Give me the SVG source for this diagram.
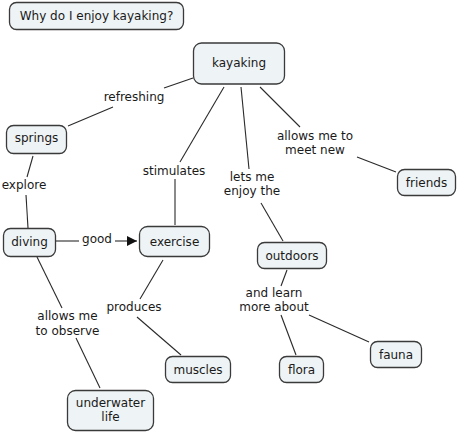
<svg xmlns="http://www.w3.org/2000/svg" width="457" height="432" viewBox="0 0 457 432">
<defs>
<style>
.n rect{fill:#eef3f5;stroke:#3a3a3a;stroke-width:1.3}
text{font-family:"DejaVu Sans",Verdana,sans-serif;font-size:12px;fill:#1a1a1a;text-anchor:middle}
.c line{stroke:#2a2a2a;stroke-width:1.1}
</style>
<marker id="ah" viewBox="0 0 10 10" refX="10" refY="5" markerWidth="10" markerHeight="10" markerUnits="userSpaceOnUse" orient="auto"><path d="M0,0 L10,5 L0,10 Z" fill="#111"/></marker>
</defs>
<rect width="457" height="432" fill="#fff"/>
<g class="c">
<line x1="193" y1="78" x2="164" y2="88"/>
<line x1="113" y1="107" x2="68" y2="126"/>
<line x1="224" y1="87" x2="180" y2="162"/>
<line x1="175" y1="179" x2="175" y2="225"/>
<line x1="241" y1="87" x2="249" y2="169"/>
<line x1="261" y1="203" x2="283" y2="241"/>
<line x1="260" y1="87" x2="300" y2="127"/>
<line x1="357" y1="157" x2="396" y2="172"/>
<line x1="33" y1="156" x2="27" y2="177"/>
<line x1="26" y1="195" x2="28" y2="228"/>
<line x1="56" y1="241" x2="79" y2="241"/>
<line x1="115" y1="241" x2="137" y2="241" marker-end="url(#ah)"/>
<line x1="37" y1="257" x2="62" y2="308"/>
<line x1="76" y1="338" x2="100" y2="388"/>
<line x1="163" y1="260" x2="140" y2="299"/>
<line x1="137" y1="317" x2="181" y2="355"/>
<line x1="287" y1="270" x2="281" y2="286"/>
<line x1="281" y1="315" x2="296" y2="355"/>
<line x1="309" y1="315" x2="369" y2="342"/>
</g>
<g id="title" class="n"><rect x="9.5" y="2.5" width="174" height="27" rx="7"/><text x="96.5" y="20">Why do I enjoy kayaking?</text></g>
<g id="kayaking" class="n"><rect x="193.5" y="43" width="91" height="41" rx="8"/><text x="239" y="67">kayaking</text></g>
<g id="friends" class="n"><rect x="397.5" y="169.5" width="58" height="26" rx="7"/><text x="426.5" y="187">friends</text></g>
<g id="springs" class="n"><rect x="6.5" y="125.5" width="60" height="28" rx="7"/><text x="36.5" y="142">springs</text></g>
<g id="diving" class="n"><rect x="3.5" y="228.5" width="52" height="28" rx="7"/><text x="29.5" y="246">diving</text></g>
<g id="exercise" class="n"><rect x="139.5" y="226.5" width="70" height="30" rx="8"/><text x="174.5" y="245.5">exercise</text></g>
<g id="outdoors" class="n"><rect x="257.5" y="242.5" width="69" height="26" rx="7"/><text x="292" y="260">outdoors</text></g>
<g id="muscles" class="n"><rect x="165.5" y="356.5" width="65" height="26" rx="7"/><text x="198" y="374">muscles</text></g>
<g id="underwater" class="n"><rect x="67.5" y="390.5" width="86" height="40" rx="8"/><text x="110.5" y="407">underwater</text><text x="110.5" y="421">life</text></g>
<g id="flora" class="n"><rect x="279.5" y="356.5" width="44" height="26" rx="7"/><text x="301.5" y="374">flora</text></g>
<g id="fauna" class="n"><rect x="370.5" y="341.5" width="51" height="26" rx="7"/><text x="396" y="359">fauna</text></g>
<g id="labels">
<text x="134" y="101">refreshing</text>
<text x="174" y="175">stimulates</text>
<text x="252" y="181">lets me</text>
<text x="252" y="195">enjoy the</text>
<text x="315" y="140">allows me to</text>
<text x="315" y="154">meet new</text>
<text x="24" y="189">explore</text>
<text x="97" y="243">good</text>
<text x="134" y="311">produces</text>
<text x="67.5" y="320">allows me</text>
<text x="67.5" y="335">to observe</text>
<text x="274" y="297">and learn</text>
<text x="274" y="311">more about</text>
</g>
</svg>
